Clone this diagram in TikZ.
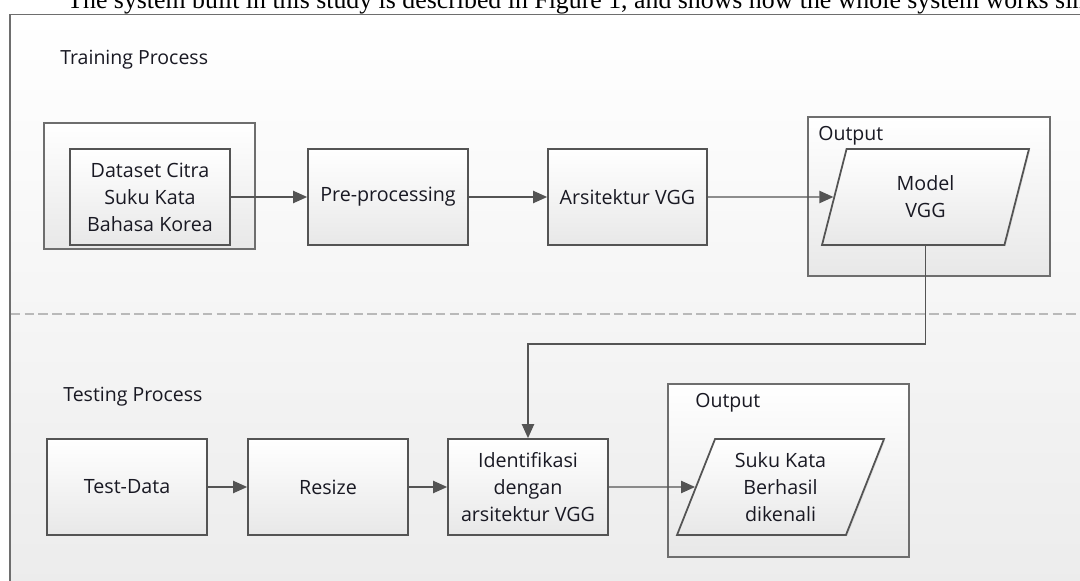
\documentclass[tikz,border=0pt]{standalone}
\usepackage{fontspec}
\setmainfont{Open Sans}
\newfontfamily\bodyserif{Liberation Serif}
\usetikzlibrary{arrows.meta,positioning,shapes.geometric,shadows}
\definecolor{edge}{RGB}{84,84,84}
\definecolor{rim}{RGB}{110,110,110}
\definecolor{lane}{RGB}{232,232,232}
\definecolor{ink}{RGB}{25,25,35}
\tikzset{
  >=Triangle,
  proc/.style={rectangle, draw=edge, line width=1pt, top color=white, bottom color=lane,
    minimum width=3.2cm, minimum height=1.92cm, align=center, inner sep=2pt, text=ink,
    font=\fontsize{11.2}{15.3}\selectfont,
    drop shadow={shadow xshift=0.7pt, shadow yshift=-0.7pt, opacity=0.18}},
  io/.style={trapezium, trapezium left angle=63.4, trapezium right angle=116.6,
    trapezium stretches body=true, draw=edge, line width=1pt, top color=white, bottom color=lane,
    minimum width=4.14cm, minimum height=1.92cm, align=center, inner sep=2pt, text=ink,
    font=\fontsize{11.2}{15.3}\selectfont,
    drop shadow={shadow xshift=0.7pt, shadow yshift=-0.7pt, opacity=0.18}},
  grp/.style={rectangle, draw=rim, line width=1.1pt, top color=white, bottom color=lane,
    drop shadow={shadow xshift=0.7pt, shadow yshift=-0.7pt, opacity=0.15}},
  tr/.style={-{Triangle[length=8pt,width=7pt]}, draw=edge, line width=0.8pt},
  lbl/.style={anchor=west, inner sep=0pt, text=ink, font=\fontsize{11.1}{13}\selectfont}
}

\begin{document}
\begin{tikzpicture}[x=0.02cm, y=-0.02cm]
    \useasboundingbox (0,0) rectangle (1080,581);
    \clip (0,0) rectangle (1080,581);
    \fill[white] (0,0) rectangle (1080,581);

    % Running text above the figure
    \node[anchor=base west, inner sep=0pt, font=\bodyserif\fontsize{14.7}{16}\selectfont] (intro) at (67,9)
        {The system built in this study is described in Figure 1, and shows how the whole system works simply};

    % Frame and lane divider
    \draw[rim, line width=1.1pt, top color=white, bottom color=lane!90] (10,14.5) rectangle (1120,640);
    \draw[gray!55, dash pattern=on 5.4pt off 2.4pt, line width=0.6pt] (11,314) -- (1080,314);

    % Training lane
    \node[lbl] (trainlbl) at (60,60) {Training Process};
    \node[grp, minimum width=4.22cm, minimum height=2.52cm] (dsgrp) at (149.5,186) {};
    \node[proc] (dataset) at (150,197) {Dataset Citra\\Suku Kata\\Bahasa Korea};
    \node[proc] (pre) at (388,197) {Pre-processing};
    \node[proc, minimum width=3.18cm] (arch) at (627.5,197) {Arsitektur VGG};
    \node[grp, minimum width=4.84cm, minimum height=3.18cm] (outgrp1) at (929,196.5) {};
    \node[lbl] (outlbl1) at (818,136) {Output};
    \node[io] (model) at (925.5,197) {Model\\VGG};

    % Testing lane
    \node[lbl] (testlbl) at (63,397) {Testing Process};
    \node[proc] (testdata) at (127,487) {Test-Data};
    \node[proc] (resize) at (328,487) {Resize};
    \node[proc] (ident) at (528,487) {Identifikasi\\dengan\\arsitektur VGG};
    \node[grp, minimum width=4.82cm, minimum height=3.46cm] (outgrp2) at (788.5,470.5) {};
    \node[lbl] (outlbl2) at (695,403) {Output};
    \node[io] (result) at (780.5,487) {Suku Kata\\Berhasil\\dikenali};

    % Flow
    \draw[tr] (dataset) -- (pre);
    \draw[tr] (pre) -- (arch);
    \draw[tr] (arch) -- (model);
    \draw[tr] (model.south) -- ++(0,98) -| (ident.north);
    \draw[tr] (testdata) -- (resize);
    \draw[tr] (resize) -- (ident);
    \draw[tr] (ident) -- (result);

\end{tikzpicture}
\end{document}
